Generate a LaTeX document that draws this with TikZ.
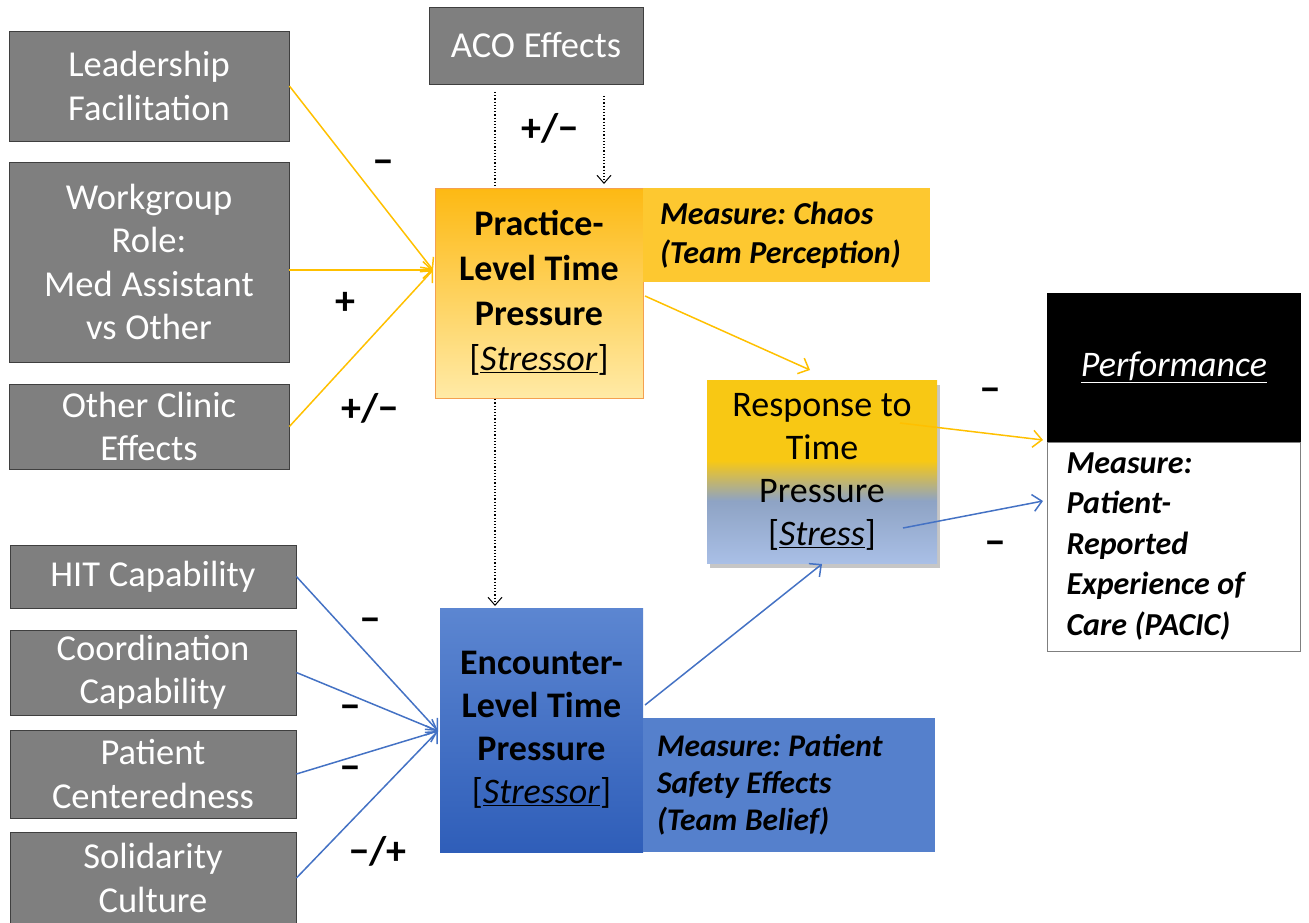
\documentclass[tikz,border=0pt]{standalone}
\usepackage{fontspec}
\setmainfont{Carlito}
\usetikzlibrary{arrows.meta,shadows}
\frenchspacing
\definecolor{boxgray}{HTML}{7F7F7F}
\definecolor{boxedge}{HTML}{3F3F3F}
\definecolor{yarrow}{HTML}{FFC000}
\definecolor{barrow}{HTML}{4472C4}
\definecolor{practop}{HTML}{FDB913}
\definecolor{pracbot}{HTML}{FFEAA6}
\definecolor{pracedge}{HTML}{F4A050}
\definecolor{chaos}{HTML}{FDC830}
\definecolor{enctop}{HTML}{5C86D1}
\definecolor{encbot}{HTML}{2F5EB9}
\definecolor{safety}{HTML}{5580CC}
\definecolor{rb2}{HTML}{A9BFE6}
\definecolor{rb1}{HTML}{8EA3C4}
\definecolor{ry}{HTML}{F8C814}
\definecolor{measedge}{HTML}{7F7F7F}
\pgfdeclareverticalshading{respshade}{100bp}{color(0bp)=(rb2); color(25bp)=(rb2); color(42bp)=(rb1); color(53bp)=(ry); color(75bp)=(ry); color(100bp)=(ry)}
\pgfdeclarelayer{background}
\pgfsetlayers{background,main}
\begin{document}
\begin{tikzpicture}[x=1pt,y=-1pt,
  every node/.append style={execute at begin node={\spaceskip=0.24em\relax\xspaceskip=0.24em\relax}},
  greybox/.style={draw=boxedge, fill=boxgray, text=white, line width=0.8pt, align=center,
    inner sep=0pt, font=\fontsize{36.5}{43.5}\selectfont},
  tip/.style={-{Straight Barb[length=9pt,width=17pt,line width=1.5pt]}},
  yel/.style={tip, draw=yarrow, line width=1.5pt},
  blu/.style={tip, draw=barrow, line width=1.5pt},
  dots/.style={dotted, line width=1.2pt, black},
  sign/.style={font=\fontsize{40}{40}\selectfont\bfseries, inner sep=0pt},
]
\useasboundingbox (0,0) rectangle (1309,923);

% left grey boxes (practice level)
\node[greybox, minimum width=280, minimum height=110] (lead) at (149,86) {Leadership\\Facilitation};
\node[greybox, minimum width=280, minimum height=200] (work) at (149,262) {Workgroup\\Role:\\Med Assistant\\vs Other};
\node[greybox, minimum width=280, minimum height=85] (clinic) at (149,426.5) {Other Clinic\\Effects};
\node[greybox, minimum width=214, minimum height=77] (aco) at (536,45.5) {ACO Effects};

% left grey boxes (encounter level)
\node[greybox, minimum width=286, minimum height=63] (hit) at (153,576.5) {HIT Capability};
\node[greybox, minimum width=286, minimum height=85] (coord) at (153,672.5) {Coordination\\Capability};
\node[greybox, minimum width=286, minimum height=88] (pat) at (153,774) {Patient\\Centeredness};
\node[greybox, minimum width=286, minimum height=92] (sol) at (153,878) {Solidarity\\Culture};

% practice-level box
\node[draw=pracedge, line width=1pt, top color=practop, bottom color=pracbot, minimum width=208, minimum height=210,
  align=center, inner sep=0pt, font=\fontsize{36}{45}\selectfont] (prac) at (539,293)
  {\textbf{Practice-}\\\textbf{Level Time}\\\textbf{Pressure}\\{[}\underline{\textit{Stressor}}{]}};
\node[fill=chaos, minimum height=94, text width=253, inner xsep=17pt, inner ysep=0pt, align=left,
  font=\fontsize{32}{39}\selectfont\bfseries\itshape] (chaos) at (786.5,235)
  {Measure: Chaos\\(Team Perception)};

% response box
\node[shading=respshade, drop shadow={opacity=0.45, shadow xshift=3pt, shadow yshift=-5pt},
  minimum width=230, minimum height=183, align=center, inner sep=0pt,
  font=\fontsize{36}{43}\selectfont] (resp) at (822,471.5)
  {Response to\\Time\\Pressure\\{[}\underline{\textit{Stress}}{]}};

% performance
\node[fill=black, minimum width=254, minimum height=149, inner sep=0pt, text=white,
  font=\fontsize{36}{36}\selectfont] (perf) at (1174,367.5) {\underline{\textit{Performance}}};
\node[draw=measedge, fill=white, line width=0.8pt, minimum height=209, text width=215, inner xsep=19pt,
  inner ysep=0pt, align=left, font=\fontsize{32}{40.5}\selectfont\bfseries\itshape] (pmeas) at (1174,546.5)
  {Measure:\\Patient-\\Reported\\Experience of\\Care (PACIC)};

% encounter box
\node[top color=enctop, bottom color=encbot, minimum width=203, minimum height=244, align=center,
  inner sep=0pt, font=\fontsize{36}{43}\selectfont] (enc) at (541.5,730)
  {\textbf{Encounter-}\\\textbf{Level Time}\\\textbf{Pressure}\\{[}\underline{\textit{Stressor}}{]}};
\node[fill=safety, minimum height=134, text width=264, inner xsep=14pt, inner ysep=0pt, align=left,
  font=\fontsize{31.5}{37}\selectfont\bfseries\itshape] (safe) at (789,785)
  {Measure: Patient\\Safety Effects\\(Team Belief)};

% connector points
\coordinate (pin) at (433,270);
\coordinate (ein) at (438,731);
\coordinate (acoL) at (495,92);
\coordinate (acoR) at (604,96);
\coordinate (encTop) at (495,606);
\coordinate (pracTop) at (604,184);
\coordinate (pracOut) at (645,296);
\coordinate (respIn) at (810,370);
\coordinate (respOutY) at (900,423);
\coordinate (perfIn) at (1043,440);
\coordinate (respOutB) at (903,528);
\coordinate (pmeasIn) at (1043,501);
\coordinate (encOut) at (645,705);
\coordinate (respBot) at (822,564);

\begin{pgfonlayer}{background}
\draw[dots, -{Straight Barb[length=8pt,width=14pt,line width=1pt]}] (acoL) -- (encTop);
\end{pgfonlayer}
\draw[dots, -{Straight Barb[length=8pt,width=14pt,line width=1pt]}] (acoR) -- (pracTop);

\draw[yel] (lead.east) -- (pin);
\draw[yel] (lead.east |- pin) -- (pin);
\draw[yel] (clinic.east) -- (pin);
\draw[yel] (pracOut) -- (respIn);
\draw[yel] (respOutY) -- (perfIn);
\draw[blu] (respOutB) -- (pmeasIn);
\draw[blu] (encOut) -- (respBot);
\draw[blu] (hit.east) -- (ein);
\draw[blu] (coord.east) -- (ein);
\draw[blu] (pat.east) -- (ein);
\draw[blu] (sol.east) -- (ein);

% signs
\node[sign] (s1) at (550,128) {+/−};
\node[sign] (s2) at (383,167) {−};
\node[sign] (s3) at (345,303) {+};
\node[sign] (s4) at (370,408) {+/−};
\node[sign] (s5) at (990,395) {−};
\node[sign] (s6) at (995,548) {−};
\node[sign] (s7) at (370,625) {−};
\node[sign] (s8) at (350,712) {−};
\node[sign] (s9) at (350,773) {−};
\node[sign] (s10) at (378,851) {−/+};
\end{tikzpicture}
\end{document}
